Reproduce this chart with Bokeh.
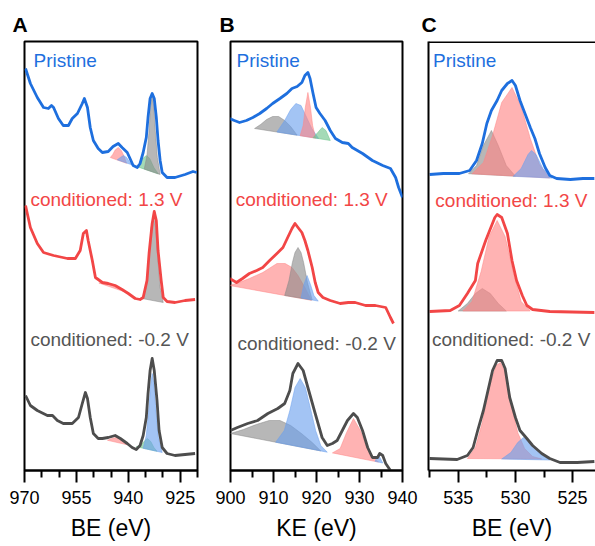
import numpy as np
from bokeh.plotting import figure
from bokeh.layouts import row
from bokeh.models import Range1d, FixedTicker, Label, LinearAxis, Span
from bokeh.embed import file_html
from bokeh.resources import INLINE

# ---------------- Panel A : Cu 2p (BE, eV) ----------------
A_PRI_BE = [969.7, 968.3, 966.3, 964.5, 963.1, 962.2, 961.6, 960.2, 958.8, 957.3, 956.2, 954.7, 953.3, 952.7,
            951.8, 951.0, 950.1, 948.7, 947.5, 945.8, 944.4, 942.9, 941.8, 940.3, 939.5, 938.6, 937.4, 936.6,
            935.7, 934.8, 934.3, 933.7, 933.1, 932.5, 931.9, 931.4, 930.8, 930.2, 928.8, 926.5, 923.6, 921.3, 920.2]
A_PRI_I = [107, 92, 78, 68, 67, 70, 68, 57, 50, 50, 57, 62, 72, 77,
           68, 48, 35, 27, 23, 24, 29, 32, 28, 23, 17, 10, 8, 12,
           23, 38, 58, 77, 82, 77, 58, 35, 15, 3, -2, -2, 1, 4, 3]
A_PRI_PINK_BE = [945.2, 944.5, 943.8, 942.9, 942.0, 941.2, 940.5]
A_PRI_PINK_I = [18, 21, 25.5, 28, 25, 19, 12.2]
A_PRI_BLUE_BE = [943.2, 942.3, 941.4, 940.5, 939.7, 938.9]
A_PRI_BLUE_I = [15.7, 18, 20, 18, 14, 10.6]
A_PRI_GREEN_BE = [937.7, 936.7, 935.8, 934.8, 933.8, 932.6, 931.3]
A_PRI_GREEN_I = [9.1, 12, 17, 20, 17, 8, 1.6]
A_PRI_GRAY_BE = [935.4, 934.6, 934.0, 933.6, 933.1, 932.6, 932.2, 931.6, 930.8]
A_PRI_GRAY_I = [6.4, 20, 45, 68, 80, 68, 45, 18, 1]

A_13_BE = [969.7, 968.3, 966.3, 964.5, 961.6, 957.6, 955.3, 953.9, 953.0, 952.1, 951.6, 950.4, 949.5, 947.5,
           945.8, 943.8, 941.8, 940.0, 938.0, 936.6, 935.7, 934.6, 934.0, 933.1, 932.5, 931.9, 931.4, 930.5,
           929.9, 928.8, 926.5, 923.6, 920.7]
A_13_I = [97, 75, 59, 50, 47, 44, 44, 52, 69, 72, 62, 42, 25, 20,
          19, 17, 13, 9, 4, 3, 5, 22, 49, 79, 91, 82, 52, 22,
          5, 1, 0, 2, 3]
A_13_PINK_BE = [948.5, 946.5, 944.5, 942.5, 940.5]
A_13_PINK_I = [19.5, 19, 17, 13.5, 10]
A_13_GRAY_BE = [936.0, 934.8, 934.0, 933.4, 932.7, 932.1, 931.5, 930.8, 929.9]
A_13_GRAY_I = [4, 15, 45, 75, 86, 75, 45, 15, 0]

A_02_BE = [969.7, 968.3, 966.3, 963.4, 961.9, 960.5, 958.8, 956.2, 954.4, 953.3, 952.4, 951.8, 951.0, 950.1,
           948.7, 947.5, 945.8, 943.8, 942.3, 940.3, 938.9, 937.7, 936.6, 935.7, 934.8, 934.3, 933.7, 933.1,
           932.5, 931.7, 931.1, 930.2, 928.8, 926.5, 923.6, 920.7]
A_02_I = [60, 50, 45, 40, 40, 35, 32, 32, 38, 52, 63, 57, 38, 22,
          17, 17, 18, 20, 17, 12, 8, 6, 10, 20, 38, 62, 85, 97,
          85, 55, 25, 8, 2, 0, 1, 2]
A_02_PINK_BE = [946.0, 944.8, 943.5, 942.3, 941.0, 940.0]
A_02_PINK_I = [15.2, 17, 18, 16.5, 13, 10.5]
A_02_GREEN_BE = [937.7, 936.5, 935.2, 934.5, 933.5, 932.6, 931.7]
A_02_GREEN_I = [8.8, 10, 15, 17, 14, 8, 4.2]
A_02_BLUE_BE = [935.7, 934.8, 934.0, 933.5, 933.1, 932.6, 932.0, 931.3, 930.2]
A_02_BLUE_I = [7.2, 20, 50, 72, 82, 72, 45, 18, 3]

# ---------------- Panel B : Auger (KE, eV) ----------------
B_PRI_KE = [899.8, 900.9, 902.1, 903.7, 905.2, 906.8, 908.4, 909.8, 911.5, 913.1, 914.3, 915.5, 916.6, 917.3,
            918.0, 918.5, 919.2, 919.9, 920.8, 922.0, 923.2, 924.4, 926.0, 927.4, 928.3, 930.7, 933.0, 935.4,
            937.2, 938.4, 939.1, 940.0]
B_PRI_I = [82, 80, 78, 80, 83, 87, 92, 97, 102, 107, 112, 114, 118, 125,
           128, 122, 107, 93, 87, 80, 70, 62, 58, 57, 53, 47, 40, 35,
           32, 23, 13, 3]
B_PRI_GRAY_KE = [905.6, 907.0, 908.4, 909.8, 911.2, 912.6, 914.0, 915.5]
B_PRI_GRAY_I = [72, 76, 81, 84, 84, 80, 74, 65.3]
B_PRI_BLUE_KE = [910.8, 912.6, 914.0, 915.2, 916.4, 917.5, 918.9, 920.5]
B_PRI_BLUE_I = [68.5, 80, 91, 97, 95, 85, 72, 62]
B_PRI_PINK_KE = [916.2, 916.9, 917.4, 918.0, 918.6, 919.1, 919.8]
B_PRI_PINK_I = [64.8, 75, 93, 108, 93, 75, 62.3]
B_PRI_GREEN_KE = [919.2, 920.3, 921.3, 922.2, 923.2]
B_PRI_GREEN_I = [62.8, 68, 73, 70, 60]

B_13_KE = [899.8, 901.4, 902.8, 904.4, 906.1, 907.5, 909.1, 910.8, 912.2, 913.3, 914.3, 915.0, 915.7, 916.6,
           917.3, 918.0, 919.0, 919.7, 920.4, 921.5, 923.2, 925.5, 927.4, 929.0, 931.4, 933.7, 936.1, 937.2, 937.9]
B_13_I = [42, 38, 42, 47, 50, 53, 60, 67, 73, 83, 92, 97, 93, 88,
          80, 70, 53, 38, 28, 23, 20, 17, 18, 18, 15, 15, 13, 3, -3]
B_13_PINK_KE = [899.8, 902.0, 904.4, 907.5, 910.8, 912.7, 914.3, 915.7, 917.3, 918.8]
B_13_PINK_I = [35, 38, 42, 48, 57, 57, 53, 45, 33, 20.2]
B_13_GRAY_KE = [912.6, 913.6, 914.4, 915.0, 915.7, 916.4, 917.0, 917.9, 919.0]
B_13_GRAY_I = [25, 40, 58, 68, 73, 68, 58, 38, 20.5]
B_13_BLUE_KE = [916.4, 917.0, 917.8, 918.6, 919.4, 920.4]
B_13_BLUE_I = [22.6, 35, 45, 36, 25, 19.4]

B_02_KE = [900.0, 901.6, 904.0, 906.3, 908.7, 911.0, 912.6, 913.8, 914.5, 915.7, 916.9, 918.0, 919.7, 921.3,
           922.5, 923.7, 924.8, 926.0, 927.2, 928.6, 929.5, 930.7, 931.9, 933.0, 934.2, 934.7, 935.4, 936.1, 937.2]
B_02_I = [40, 43, 47, 50, 57, 62, 67, 80, 97, 107, 100, 83, 57, 33,
          25, 27, 30, 40, 50, 57, 53, 40, 23, 13, 13, 17, 15, 7, 0]
B_02_GRAY_KE = [900.0, 903.0, 906.0, 909.0, 911.5, 914.0, 916.5, 919.0, 921.0]
B_02_GRAY_I = [37, 41, 46, 50, 50, 45, 37, 28, 19.6]
B_02_BLUE_KE = [910.5, 912.5, 913.8, 915.0, 916.2, 917.4, 918.6, 919.8, 921.0, 922.5]
B_02_BLUE_I = [28.3, 40, 60, 83, 92, 83, 62, 40, 25, 18.3]
B_02_PINK_KE = [923.7, 925.5, 927.0, 928.6, 930.2, 931.8, 933.5, 934.4]
B_02_PINK_I = [17.6, 22, 38, 52, 40, 22, 12, 8.4]
B_02_SMALL_KE = [933.6, 934.5, 935.4]
B_02_SMALL_I = [9.2, 15, 7.5]

# ---------------- Panel C : O 1s (BE, eV) ----------------
C_PRI_BE = [537.5, 536.3, 534.9, 534.0, 533.4, 532.9, 532.5, 532.1, 531.6, 531.2, 530.7, 530.3, 530.0, 529.6,
            529.1, 528.7, 528.3, 527.9, 527.4, 527.0, 526.4, 525.2, 524.1, 523.1]
C_PRI_I = [6, 7, 7, 10, 20, 37, 57, 70, 80, 90, 97, 100, 95, 80,
           65, 53, 42, 27, 13, 5, 2, 1, 2, 2]
C_PRI_GRAY_BE = [534.1, 533.4, 532.8, 532.1, 531.5, 530.8, 530.0]
C_PRI_GRAY_I = [6.8, 15, 35, 50, 35, 15, 4.3]
C_PRI_PINK_BE = [533.8, 532.8, 532.0, 531.2, 530.3, 529.5, 528.7, 527.9, 527.0]
C_PRI_PINK_I = [6.7, 18, 45, 78, 93, 74, 42, 16, 2.5]
C_PRI_BLUE_BE = [530.2, 529.5, 528.9, 528.6, 528.2, 527.6, 526.8]
C_PRI_BLUE_I = [4.2, 12, 26, 30, 26, 12, 2.4]

C_13_BE = [537.5, 535.7, 534.9, 534.2, 533.5, 533.3, 532.6, 531.8, 531.6, 531.2, 530.7, 530.3, 529.9, 529.4,
           529.0, 528.5, 527.0, 523.1]
C_13_I = [0, 1, 6, 18, 31, 48, 71, 94, 97, 94, 78, 51, 31, 16,
          6, 2, 0, -1]
C_13_PINK_BE = [534.6, 533.8, 533.0, 532.3, 531.6, 530.9, 530.2, 529.5, 528.7]
C_13_PINK_I = [0.5, 10, 40, 75, 91, 75, 40, 10, 0.5]
C_13_GRAY_BE = [535.0, 534.2, 533.5, 532.9, 532.2, 531.5, 530.8]
C_13_GRAY_I = [0.5, 8, 18, 23, 18, 8, 0.5]

C_02_BE = [537.5, 535.1, 534.2, 533.7, 533.3, 532.8, 532.4, 532.0, 531.6, 531.2, 530.9, 530.5, 530.0, 529.6,
           529.0, 528.5, 527.7, 527.0, 526.1, 524.6, 523.1]
C_02_I = [4, 3, 7, 15, 32, 52, 72, 92, 102, 102, 94, 65, 45, 32,
          24, 17, 9, 4, 0, 0, 1]
C_02_PINK_BE = [534.2, 533.5, 532.9, 532.3, 531.7, 531.3, 530.8, 530.3, 529.8, 529.2, 528.5, 527.7]
C_02_PINK_I = [4, 15, 40, 75, 97, 100, 88, 55, 30, 14, 6, 3.5]
C_02_BLUE_BE = [531.2, 530.4, 529.8, 529.3, 528.7, 528.0, 527.0]
C_02_BLUE_I = [3.5, 10, 20, 25, 20, 10, 2.5]

LABELS = ["Pristine", "conditioned: 1.3 V", "conditioned: -0.2 V"]
A_TICKS = [970, 955, 940, 925]
A_MINOR = [965, 960, 950, 945, 935, 930, 920]
B_TICKS = [900, 910, 920, 930, 940]
B_MINOR = [905, 915, 925, 935]
C_TICKS = [535, 530, 525]
C_MINOR = [537.5, 532.5, 527.5]

# ---------------- styles / positions ----------------
LINE_COLORS = ["#1e6fde", "#f24646", "#4d4d4d"]
TEXT_COLORS = ["#1e6fde", "#f24646", "#555555"]
FILL = {"gray": "#8a8a8a", "pink": "#ff8585", "blue": "#6b9fee", "green": "#6cc48a"}
FONT = "Liberation Sans"
YMAX = 429


def make_fig(width, bl, br, xr, ticks, minor, xlabel, letter, letter_off, outline=True):
    p = figure(width=width, height=546, x_range=Range1d(*xr), y_range=Range1d(0, YMAX),
               output_backend="svg", toolbar_location=None, y_axis_location=None,
               min_border_left=bl, min_border_right=br, min_border_top=41, min_border_bottom=76)
    p.xgrid.visible = False
    p.ygrid.visible = False
    p.background_fill_color = "white"
    p.border_fill_color = "white"
    if outline:
        p.outline_line_color = "black"
        p.outline_line_width = 2
        p.outline_line_alpha = 1
    else:
        p.outline_line_color = None
    ax = p.xaxis[0]
    ax.ticker = FixedTicker(ticks=ticks, minor_ticks=minor)
    ax.axis_line_width = 2
    ax.axis_line_color = "black"
    ax.major_tick_line_width = 2
    ax.minor_tick_line_width = 2
    ax.major_tick_out = 12
    ax.major_tick_in = 0
    ax.minor_tick_out = 7
    ax.minor_tick_in = 0
    ax.major_label_text_font = FONT
    ax.major_label_text_font_size = "18px"
    ax.major_label_text_color = "black"
    ax.major_label_standoff = 8
    ax.axis_label = xlabel
    ax.axis_label_text_font = FONT
    ax.axis_label_text_font_size = "23px"
    ax.axis_label_text_font_style = "normal"
    ax.axis_label_text_color = "black"
    ax.axis_label_standoff = 8
    p.title.text = letter
    p.title.text_font = FONT
    p.title.text_font_size = "21px"
    p.title.text_font_style = "bold"
    p.title.text_color = "black"
    p.title.align = "left"
    p.title.offset = letter_off
    p.title.standoff = 11
    return p


def add_comp(p, x, y, off, color):
    p.patch(x, np.array(y, dtype=float) + off, fill_color=FILL[color], fill_alpha=0.62,
            line_color=FILL[color], line_alpha=0.5, line_width=1)


def add_line(p, x, y, off, idx):
    p.line(x, np.array(y, dtype=float) + off, line_color=LINE_COLORS[idx], line_width=2.8,
           line_join="round")


def add_labels(p, xs, ys):
    for i, t in enumerate(LABELS):
        p.add_layout(Label(x=xs[i], y=ys[i], text=t, text_font=FONT, text_font_size="19px",
                           text_color=TEXT_COLORS[i], text_baseline="middle", text_align="left"))


# Panel A
pa = make_fig(210, 24, 13, (970, 920), A_TICKS, A_MINOR, "BE (eV)", "A", -12)
offA = [295, 168, 15]
add_comp(pa, A_PRI_PINK_BE, A_PRI_PINK_I, offA[0], "pink")
add_comp(pa, A_PRI_BLUE_BE, A_PRI_BLUE_I, offA[0], "blue")
add_comp(pa, A_PRI_GREEN_BE, A_PRI_GREEN_I, offA[0], "green")
add_comp(pa, A_PRI_GRAY_BE, A_PRI_GRAY_I, offA[0], "gray")
add_line(pa, A_PRI_BE, A_PRI_I, offA[0], 0)
add_comp(pa, A_13_PINK_BE, A_13_PINK_I, offA[1], "pink")
add_comp(pa, A_13_GRAY_BE, A_13_GRAY_I, offA[1], "gray")
add_line(pa, A_13_BE, A_13_I, offA[1], 1)
add_comp(pa, A_02_PINK_BE, A_02_PINK_I, offA[2], "pink")
add_comp(pa, A_02_GREEN_BE, A_02_GREEN_I, offA[2], "green")
add_comp(pa, A_02_BLUE_BE, A_02_BLUE_I, offA[2], "blue")
add_line(pa, A_02_BE, A_02_I, offA[2], 2)
add_labels(pa, [967.4, 968.3, 968.3], [410, 271, 131])

# Panel B
pb = make_fig(208, 20, 16, (900, 940), B_TICKS, B_MINOR, "KE (eV)", "B", -11)
offB = [270, 150, 0]
add_comp(pb, B_PRI_GRAY_KE, B_PRI_GRAY_I, offB[0], "gray")
add_comp(pb, B_PRI_BLUE_KE, B_PRI_BLUE_I, offB[0], "blue")
add_comp(pb, B_PRI_PINK_KE, B_PRI_PINK_I, offB[0], "pink")
add_comp(pb, B_PRI_GREEN_KE, B_PRI_GREEN_I, offB[0], "green")
add_line(pb, B_PRI_KE, B_PRI_I, offB[0], 0)
add_comp(pb, B_13_PINK_KE, B_13_PINK_I, offB[1], "pink")
add_comp(pb, B_13_GRAY_KE, B_13_GRAY_I, offB[1], "gray")
add_comp(pb, B_13_BLUE_KE, B_13_BLUE_I, offB[1], "blue")
add_line(pb, B_13_KE, B_13_I, offB[1], 1)
add_comp(pb, B_02_GRAY_KE, B_02_GRAY_I, offB[2], "gray")
add_comp(pb, B_02_BLUE_KE, B_02_BLUE_I, offB[2], "blue")
add_comp(pb, B_02_PINK_KE, B_02_PINK_I, offB[2], "pink")
add_comp(pb, B_02_SMALL_KE, B_02_SMALL_I, offB[2], "blue")
add_line(pb, B_02_KE, B_02_I, offB[2], 2)
add_labels(pb, [901.4, 901.2, 901.6], [410, 271, 127])

# Panel C (frame runs off the right edge: only top and left borders)
pc = make_fig(177, 10, 0, (537.6, 523.0), C_TICKS, C_MINOR, "BE (eV)", "C", -7, outline=False)
left_ax = LinearAxis(ticker=FixedTicker(ticks=[]), axis_line_width=2, axis_line_color="black",
                     major_tick_line_color=None, minor_tick_line_color=None,
                     major_label_standoff=0, major_tick_out=0, minor_tick_out=0)
pc.add_layout(left_ax, "left")
pc.add_layout(Span(location=YMAX - 0.5, dimension="width", line_color="black", line_width=2))
offC = [290, 159, 8]
add_comp(pc, C_PRI_GRAY_BE, C_PRI_GRAY_I, offC[0], "gray")
add_comp(pc, C_PRI_PINK_BE, C_PRI_PINK_I, offC[0], "pink")
add_comp(pc, C_PRI_BLUE_BE, C_PRI_BLUE_I, offC[0], "blue")
add_line(pc, C_PRI_BE, C_PRI_I, offC[0], 0)
add_comp(pc, C_13_GRAY_BE, C_13_GRAY_I, offC[1], "gray")
add_comp(pc, C_13_PINK_BE, C_13_PINK_I, offC[1], "pink")
add_line(pc, C_13_BE, C_13_I, offC[1], 1)
add_comp(pc, C_02_PINK_BE, C_02_PINK_I, offC[2], "pink")
add_comp(pc, C_02_BLUE_BE, C_02_BLUE_I, offC[2], "blue")
add_line(pc, C_02_BE, C_02_I, offC[2], 2)
add_labels(pc, [537.2, 537.0, 537.3], [410, 270, 131])

layout = row(pa, pb, pc, spacing=0)
open("out.html", "w").write(file_html(layout, INLINE))
